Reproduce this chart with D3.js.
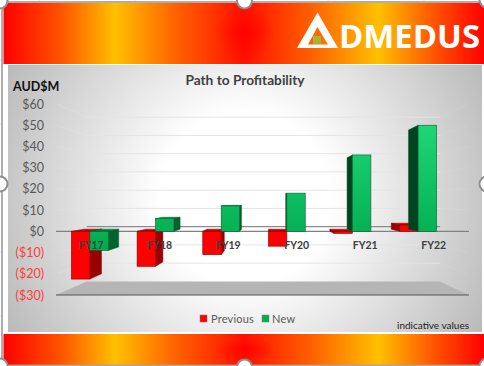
<!DOCTYPE html>
<html>
<head>
<meta charset="utf-8">
<script src="https://cdn.jsdelivr.net/npm/d3@7"></script>
<style>
  html, body { margin: 0; padding: 0; background: #fff; }
  svg { display: block; font-family: Lato, "Open Sans", sans-serif; }
</style>
</head>
<body>
<svg id="chart" width="484" height="366"></svg>
<script>
var categories = ['FY17', 'FY18', 'FY19', 'FY20', 'FY21', 'FY22'];
var seriesNames = ['Previous', 'New'];
var previous = [-22.5, -16.5, -11, -7, -1, 3];
var newValues = [-9, 6, 12, 18, 36, 50];
var yTicks = [60, 50, 40, 30, 20, 10, 0, -10, -20, -30];

var svg = d3.select('#chart');
var defs = svg.append('defs');

// scales
var y = d3.scaleLinear().domain([-30, 60]).range([295, 104]);
var xLabels = d3.scaleBand().domain(categories).range([57, 468]);
var xBars = d3.scaleBand().domain(categories).range([57, 451]);
var barW = 18.4;
var xSeries = d3.scaleBand().domain(seriesNames)
  .range([xBars.bandwidth() / 2 - barW, xBars.bandwidth() / 2 + barW]);

// perspective: everything shrinks toward this point going back
var vanish = [269, 198];
var backT = 0.14;
var barT = 0.065;
function proj(px, py, t) {
  return [px + (vanish[0] - px) * t, py + (vanish[1] - py) * t];
}
function poly(points) {
  return points.map(function(p) { return p[0] + ',' + p[1]; }).join(' ');
}

// gradients
var bandGrad = defs.append('linearGradient').attr('id', 'band');
[[0, '#ff0000'], [0.115, '#ff5000'], [0.232, '#ffc000'], [0.36, '#ff6000'], [0.5, '#ff1000'],
 [0.64, '#ff6000'], [0.78, '#ffc000'], [0.9, '#ff5000'], [1, '#ff0000']].forEach(function(s) {
  bandGrad.append('stop').attr('offset', s[0]).attr('stop-color', s[1]);
});

var glow = defs.append('radialGradient').attr('id', 'glow');
glow.append('stop').attr('offset', 0).attr('stop-color', '#ff0000').attr('stop-opacity', 0.8);
glow.append('stop').attr('offset', 1).attr('stop-color', '#ff0000').attr('stop-opacity', 0);

var panelGrad = defs.append('radialGradient').attr('id', 'panel')
  .attr('gradientUnits', 'userSpaceOnUse')
  .attr('cx', 245).attr('cy', 198).attr('r', 285);
panelGrad.append('stop').attr('offset', 0.3).attr('stop-color', '#ffffff');
panelGrad.append('stop').attr('offset', 1).attr('stop-color', '#b5b5b5');

var greenGrad = defs.append('linearGradient').attr('id', 'greenFace')
  .attr('gradientUnits', 'userSpaceOnUse')
  .attr('x1', 0).attr('x2', 0).attr('y1', 124).attr('y2', 250);
greenGrad.append('stop').attr('offset', 0).attr('stop-color', '#1fd677');
greenGrad.append('stop').attr('offset', 1).attr('stop-color', '#00ab4e');

// sheet gridlines behind the object
var sheet = svg.append('g').attr('stroke', '#e3e3e3');
[39, 135, 232, 328, 424].forEach(function(v) {
  sheet.append('line').attr('x1', v).attr('x2', v).attr('y1', 0).attr('y2', 3);
});
[60, 124, 188, 252, 316].forEach(function(v) {
  sheet.append('line').attr('x1', 0).attr('x2', 2).attr('y1', v).attr('y2', v);
});

// colour bands
[[3, 61, 33], [334, 31, 350]].forEach(function(b) {
  svg.append('rect').attr('x', 3.5).attr('y', b[0]).attr('width', 481).attr('height', b[1]).attr('fill', 'url(#band)');
  svg.append('ellipse').attr('cx', 245).attr('cy', b[2]).attr('rx', 30).attr('ry', b[1] / 2 - 3)
    .attr('fill', 'url(#glow)');
});

// logo
var logo = svg.append('g').attr('fill', '#fff');
logo.append('path').attr('fill-rule', 'evenodd')
  .attr('d', 'M317.5,12.5 L338,48 L297,48 Z M317.5,27 L308,44.5 L328,44.5 Z');
logo.append('rect').attr('x', 313).attr('y', 36).attr('width', 8).attr('height', 8).attr('fill', '#a7b536');
logo.append('text').attr('x', 339).attr('y', 47.5)
  .attr('font-family', '"Open Sans", sans-serif').attr('font-weight', 700)
  .attr('font-size', 33).attr('textLength', 141).attr('lengthAdjust', 'spacingAndGlyphs')
  .text('DMEDUS');

// chart panel
svg.append('rect').attr('x', 8).attr('y', 65).attr('width', 474).attr('height', 267)
  .attr('fill', 'url(#panel)');

var frontL = xLabels.range()[0], frontR = xLabels.range()[1];

// back wall gridlines, side wall ones barely show
var grid = svg.append('g').attr('stroke', '#e4e4e4').attr('fill', 'none');
yTicks.filter(function(v) { return v !== 0 && v > -30; }).forEach(function(v) {
  var a = proj(frontL, y(v), backT), b = proj(frontR, y(v), backT);
  grid.append('line').attr('x1', a[0]).attr('y1', a[1]).attr('x2', b[0]).attr('y2', b[1]);
  grid.append('line').attr('x1', frontL).attr('y1', y(v)).attr('x2', a[0]).attr('y2', a[1]).attr('stroke-opacity', 0.35);
  grid.append('line').attr('x1', b[0]).attr('y1', b[1]).attr('x2', frontR).attr('y2', y(v)).attr('stroke-opacity', 0.15);
});

// floor
svg.append('polygon')
  .attr('points', poly([[frontL - 1, y(-30)], proj(frontL, y(-30), backT), proj(frontR, y(-30), backT), [frontR + 1, y(-30)]]))
  .attr('fill', '#b5b5b5');
svg.append('line').attr('x1', frontL - 1).attr('x2', frontR + 1).attr('y1', y(-30)).attr('y2', y(-30))
  .attr('stroke', '#555').attr('stroke-width', 1);

// zero plane edges
var zb = proj(frontL, y(0), backT), zc = proj(frontR, y(0), backT);
svg.append('line').attr('x1', zb[0]).attr('x2', zc[0]).attr('y1', zb[1]).attr('y2', zc[1])
  .attr('stroke', '#8c8c8c').attr('stroke-width', 1.2);
svg.append('line').attr('x1', frontL - 1).attr('x2', frontR + 1).attr('y1', y(0)).attr('y2', y(0))
  .attr('stroke', '#808080').attr('stroke-width', 1.2);

// bars, red first so that green covers it
var rows = [];
seriesNames.forEach(function(name, si) {
  var vals = si === 0 ? previous : newValues;
  categories.forEach(function(c, i) { rows.push({ cat: c, series: name, value: vals[i] }); });
});

var bars = svg.append('g').selectAll('g').data(rows).enter().append('g');

bars.each(function(d) {
  var g = d3.select(this);
  var isNew = d.series === 'New';
  var x0 = xBars(d.cat) + xSeries(d.series);
  var x1 = x0 + barW;
  var top = y(Math.max(d.value, 0));
  var bottom = y(Math.min(d.value, 0));
  var tl = proj(x0, top, barT), tr = proj(x1, top, barT);
  var bl = proj(x0, bottom, barT), br = proj(x1, bottom, barT);
  var sideCol = isNew ? (x0 > vanish[0] ? '#00441f' : '#00642d') : '#990000';
  var topCol = isNew ? '#00853c' : '#c00000';
  var edge = isNew ? '#0b5a30' : '#8a0000';
  // whichever side faces the viewer
  if (x1 < vanish[0]) {
    g.append('polygon').attr('points', poly([[x1, top], tr, br, [x1, bottom]]))
      .attr('fill', sideCol).attr('stroke', edge).attr('stroke-width', 0.5);
  } else if (x0 > vanish[0]) {
    g.append('polygon').attr('points', poly([[x0, top], tl, bl, [x0, bottom]]))
      .attr('fill', sideCol).attr('stroke', edge).attr('stroke-width', 0.5);
  }
  if (top > vanish[1]) {
    g.append('polygon').attr('points', poly([[x0, top], tl, tr, [x1, top]]))
      .attr('fill', topCol).attr('stroke', edge).attr('stroke-width', 0.5);
  }
  g.append('rect').attr('x', x0).attr('y', top).attr('width', barW).attr('height', bottom - top)
    .attr('fill', isNew ? 'url(#greenFace)' : '#ff0000')
    .attr('stroke', edge).attr('stroke-width', 0.6);
});

// axes
var yAxis = d3.axisLeft(y).tickValues(yTicks).tickSize(0).tickPadding(0)
  .tickFormat(function(v) { return v < 0 ? '($' + (-v) + ')' : '$' + v; });
var yG = svg.append('g').attr('transform', 'translate(44,0)').call(yAxis);
yG.select('.domain').remove();
yG.selectAll('text')
  .attr('font-family', 'Lato, sans-serif').attr('font-size', 12.5)
  .attr('fill', function(v) { return v < 0 ? '#ff3b3b' : '#595959'; });

var xAxis = d3.axisBottom(xLabels).tickSize(0).tickPadding(0);
var xG = svg.append('g').attr('transform', 'translate(0,242)').call(xAxis);
xG.select('.domain').remove();
xG.selectAll('text')
  .attr('font-family', 'Lato, sans-serif').attr('font-size', 10.5).attr('font-weight', 700)
  .attr('fill', '#404040');

// titles
svg.append('text').attr('x', 245).attr('y', 85).attr('text-anchor', 'middle')
  .attr('font-size', 13.7).attr('font-weight', 700).attr('fill', '#404040').text('Path to Profitability');
svg.append('text').attr('x', 13).attr('y', 90.5)
  .attr('font-size', 12.5).attr('font-weight', 700).attr('fill', '#111').text('AUD$M');

// legend
var legend = svg.append('g');
[[200, 211, 'Previous', '#ff0000'], [262, 272, 'New', '#00b050']].forEach(function(l) {
  legend.append('rect').attr('x', l[0]).attr('y', 315).attr('width', 7).attr('height', 7)
    .attr('fill', l[3]).attr('stroke', '#7f7f7f').attr('stroke-width', 0.5);
  legend.append('text').attr('x', l[1]).attr('y', 323)
    .attr('font-size', 11).attr('letter-spacing', 0.2).attr('fill', '#595959').text(l[2]);
});

svg.append('text').attr('x', 469).attr('y', 329).attr('text-anchor', 'end')
  .attr('font-size', 10).attr('fill', '#222').text('indicative values');

// selection frame and handles
svg.append('rect').attr('x', 2).attr('y', 2).attr('width', 490).attr('height', 363.5)
  .attr('fill', 'none').attr('stroke', '#a6a6a6').attr('stroke-width', 1.8);
var handles = [[0, 1], [244.5, 1], [487, 0], [0, 184], [487, 184], [0, 366], [244.5, 367], [487, 366]];
svg.append('g').selectAll('circle').data(handles).enter().append('circle')
  .attr('cx', function(d) { return d[0]; }).attr('cy', function(d) { return d[1]; })
  .attr('r', 7.5).attr('fill', '#fff').attr('stroke', '#8f8f8f').attr('stroke-width', 2);
</script>
</body>
</html>
